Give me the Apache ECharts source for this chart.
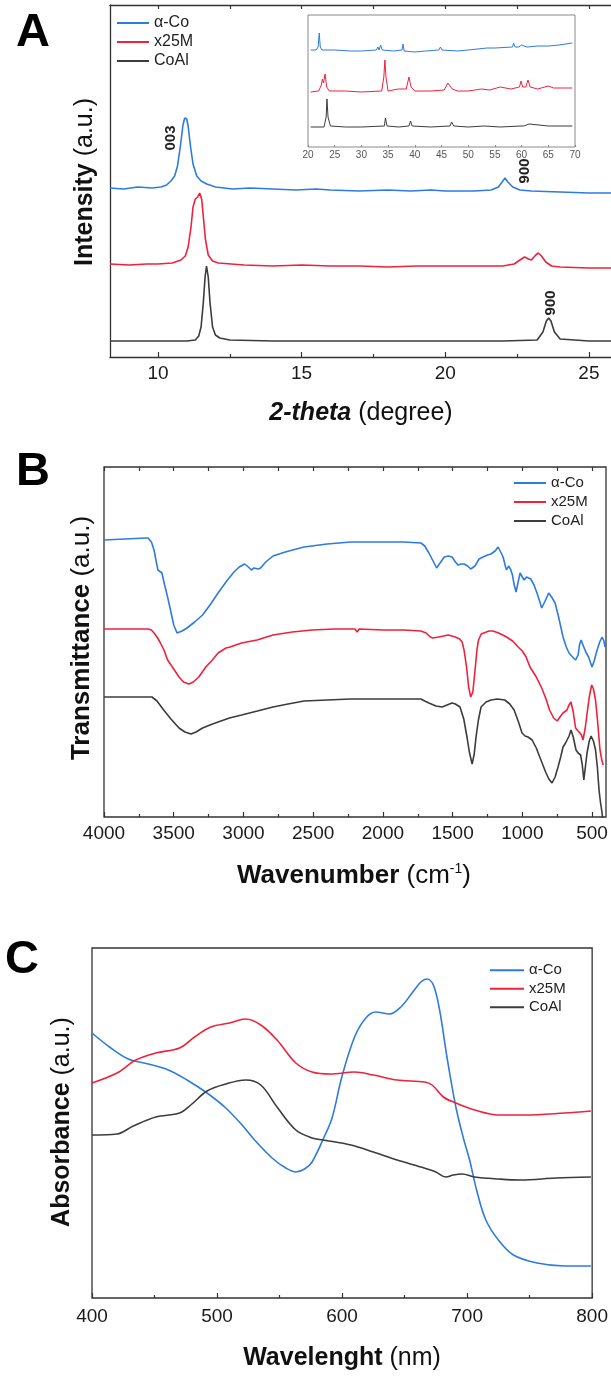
<!DOCTYPE html>
<html><head><meta charset="utf-8">
<script src="https://cdn.jsdelivr.net/npm/echarts@6/dist/echarts.min.js"></script>
<style>html,body{margin:0;padding:0;background:#fff;overflow:hidden}#c{width:611px;height:1376px}</style>
</head><body><div id="c"></div>
<script>
const seriesNames = ['α-Co', 'x25M', 'CoAl'];
const colors = ['#2e7be0', '#f0213b', '#3c3c3c'];

// ---- Panel A: XRD (2-theta, intensity a.u.) ----
const xrdTicks = [10, 15, 20, 25];
const xrdMinorTicks = [12.5, 17.5, 22.5];
const xrdAlphaCo = [[8.33,169],[8.8,168],[9.3,170],[9.8,169],[10.1,170],[10.3,172],[10.45,176],[10.58,181],[10.68,191],[10.78,211],[10.87,232],[10.93,239],[10.96,241],[11.0,238],[11.05,231],[11.13,211],[11.22,193],[11.35,181],[11.5,176],[11.7,173],[12.0,170],[12.6,168],[13.2,169],[14,168],[14.8,167],[15.5,168],[16,167],[17,166],[18,167],[18.8,166],[19.5,167],[20,166],[21,166],[21.6,167],[21.85,170],[21.98,175],[22.08,179],[22.18,175],[22.35,170],[22.6,167],[23,166],[24,165],[25,164],[25.8,164]];
const xrdX25M = [[8.33,93],[9,92],[9.6,93],[10,93],[10.5,94],[10.8,97],[10.95,101],[11.05,110],[11.15,130],[11.22,150],[11.3,158],[11.38,160],[11.45,164],[11.52,158],[11.58,140],[11.65,118],[11.75,102],[11.9,96],[12.1,94],[13,92],[14,91],[15,92],[16,91],[17,91],[18,90],[19,91],[20,91],[21,91],[22,91],[22.4,93],[22.6,97],[22.76,100],[22.9,98],[23.0,97],[23.15,102],[23.24,104],[23.35,101],[23.5,95],[23.7,91],[24,90],[25,89],[25.8,89]];
const xrdCoAl = [[8.33,16],[9,16],[10,16],[11,16],[11.3,17],[11.42,21],[11.5,30],[11.58,55],[11.64,80],[11.69,91],[11.75,80],[11.81,55],[11.9,30],[12.0,22],[12.15,19],[12.5,17],[14,16],[16,16],[18,16],[20,16],[22,16],[23.2,17],[23.4,25],[23.52,36],[23.6,39],[23.68,36],[23.8,25],[24,18],[25,16],[25.8,16]];
const xrdPeakLabels = [['003',10.45,219,90,0],['006',22.72,186,-90,0],['006',23.63,54,-90,2]];

// ---- Inset: wide-angle XRD 20-70 ----
const insetAlphaCo = [[20.5,97],[21.5,97],[21.9,100],[22.1,114],[22.3,100],[22.6,97],[25,97],[28,96],[30,96],[32.8,97],[33.1,100],[33.3,97],[33.6,102],[33.9,97],[36,96],[37.6,97],[37.8,103],[38.0,96],[40,95],[42,96],[44.5,97],[44.8,100],[45.1,97],[48,96],[50,97],[53.5,99],[55,99],[58.3,100],[58.5,104],[58.8,100],[59.5,100],[60,102],[61,100],[63,101],[65,101],[67,102],[69.5,104]];
const insetX25M = [[20.5,55],[22,56],[22.5,62],[22.7,68],[22.9,64],[23.2,73],[23.5,60],[24,56],[27,56],[30,55],[33.8,56],[34.2,70],[34.4,87],[34.6,70],[35,56],[36.9,58],[37.1,56],[38.4,58],[38.9,70],[39.3,60],[40,56],[43,56],[45.5,57],[46.2,64],[46.5,65],[47,58],[48,56],[50,56],[52.5,58],[54,57],[56,60],[58,58],[59.6,60],[59.9,66],[60.2,60],[60.8,60],[61.2,67],[61.6,60],[63,58],[65,61],[66,59],[68,59],[69.5,59]];
const insetCoAl = [[20.5,20],[23,20],[23.4,30],[23.55,48],[23.75,30],[24.2,21],[27,20],[30,20],[34.3,21],[34.5,29],[34.8,21],[37,20],[38.9,21],[39.2,26],[39.5,21],[43,20],[46.6,21],[46.9,25],[47.3,21],[50,20],[53,21],[56,20],[59.9,21],[60.1,23],[60.4,21],[61.4,23],[61.7,21],[65,21],[69.5,21]];

// ---- Panel B: FTIR (wavenumber, transmittance a.u.) ----
const irTicks = [4000, 3500, 3000, 2500, 2000, 1500, 1000, 500];
const irMinorTicks = [3750, 3250, 2750, 2250, 1750, 1250, 750];
const irAlphaCo = [[4000,277],[3850,278],[3700,279],[3684,279],[3660,275],[3641,267],[3625,255],[3613,247],[3600,245],[3585,244],[3565,232],[3544,220],[3520,205],[3500,192],[3476,184],[3440,186],[3405,189],[3350,195],[3293,202],[3240,212],[3182,224],[3120,236],[3068,245],[3030,250],[2991,253],[2965,250],[2943,247],[2925,249],[2914,250],[2895,248],[2877,249],[2840,255],[2788,261],[2700,265],[2566,270],[2400,273],[2230,275],[2100,275],[1950,275],[1850,275],[1727,274],[1700,271],[1670,264],[1640,256],[1615,249],[1595,253],[1560,260],[1530,261],[1504,260],[1480,255],[1461,252],[1440,253],[1418,253],[1392,251],[1370,248],[1360,247],[1340,251],[1310,258],[1282,260],[1250,262],[1225,263],[1195,266],[1174,270],[1155,265],[1138,260],[1120,250],[1113,247],[1099,251],[1085,248],[1071,242],[1058,232],[1045,225],[1030,235],[1016,244],[1000,240],[987,237],[970,240],[959,242],[940,238],[916,232],[890,222],[861,209],[840,215],[811,224],[790,220],[765,214],[740,200],[708,180],[685,170],[665,164],[640,160],[618,157],[600,162],[590,172],[579,177],[565,172],[545,165],[525,160],[510,154],[500,150],[485,156],[464,167],[445,175],[428,180],[415,176],[407,170]];
const irX25M = [[4000,188],[3800,188],[3684,188],[3660,187],[3641,184],[3620,180],[3599,175],[3570,167],[3544,157],[3500,148],[3462,140],[3430,135],[3391,133],[3360,135],[3320,140],[3270,150],[3223,157],[3182,164],[3125,169],[3096,170],[3013,174],[2902,177],[2788,182],[2650,185],[2509,187],[2350,188],[2230,188],[2200,188],[2185,185],[2170,188],[2000,187],[1850,187],[1727,186],[1690,184],[1660,180],[1644,179],[1600,180],[1531,182],[1480,180],[1450,178],[1432,175],[1418,167],[1400,150],[1385,130],[1370,120],[1364,119],[1355,125],[1339,147],[1325,168],[1314,177],[1295,183],[1282,184],[1240,186],[1211,186],[1170,184],[1113,180],[1070,176],[1030,170],[1000,166],[973,160],[945,150],[900,140],[861,129],[830,118],[805,107],[775,99],[750,96],[725,101],[708,104],[680,107],[665,112],[651,115],[635,105],[618,89],[600,86],[587,85],[575,82],[565,77],[550,88],[539,100],[520,120],[503,132],[490,128],[475,117],[460,95],[443,67],[430,57],[421,52]];
const irCoAl = [[4000,120],[3800,120],[3656,120],[3620,116],[3572,107],[3520,98],[3462,89],[3420,85],[3376,83],[3340,85],[3293,89],[3240,92],[3182,95],[3100,99],[3013,102],[2900,106],[2788,110],[2680,113],[2566,116],[2400,117],[2230,118],[2000,118],[1850,118],[1727,118],[1700,116],[1670,114],[1620,111],[1575,110],[1540,112],[1504,114],[1480,113],[1447,110],[1420,98],[1397,80],[1380,65],[1360,53],[1345,63],[1332,80],[1315,97],[1296,110],[1260,115],[1225,117],[1180,118],[1126,117],[1090,113],[1059,107],[1030,96],[1002,84],[980,81],[959,80],[930,77],[900,69],[875,60],[850,51],[833,45],[810,38],[787,34],[765,40],[744,50],[725,60],[708,70],[690,74],[680,75],[665,81],[651,87],[635,80],[615,67],[600,64],[582,62],[570,52],[559,37],[548,50],[536,64],[520,76],[507,81],[490,76],[475,67],[462,50],[450,27],[440,15],[428,4],[415,-20]];

// ---- Panel C: UV-Vis (wavelength, absorbance a.u.) ----
const uvAlphaCo = [[400,265],[414,251],[429,239],[445,234],[461,228],[476,218],[492,205],[507,190],[520,173],[530,158],[544,140],[555,130],[563,126],[570,129],[576,136],[586,162],[592,180],[600,222],[610,261],[619,280],[627,286],[638,284],[647,291],[656,305],[663,316],[668,319],[673,313],[678,288],[684,240],[691,191],[697,160],[702,138],[708,106],[715,78],[725,58],[737,43],[756,35],[778,32],[799,32]];
const uvX25M = [[400,215],[420,225],[435,238],[451,245],[470,250],[482,261],[495,271],[510,275],[523,279],[535,273],[548,258],[563,235],[576,226],[591,224],[610,226],[625,223],[644,218],[666,216],[672,213],[681,201],[691,195],[706,188],[725,183],[747,183],[778,185],[799,187]];
const uvCoAl = [[400,163],[420,164],[433,172],[451,181],[470,185],[479,193],[492,207],[507,214],[523,218],[535,213],[548,191],[563,168],[576,160],[585,158],[607,153],[625,146],[644,138],[663,131],[675,126],[683,121],[689,123],[696,124],[706,121],[725,119],[743,118],[771,120],[799,121]];

const FF = 'Liberation Sans, Arial, Helvetica, sans-serif';
const axisCol = '#333';
const tickLab = { color: '#1a1a1a', fontSize: 19, fontFamily: FF, formatter: v => String(v) };
const axLine = { show: true, lineStyle: { color: axisCol, width: 1.3 } };

function mkLine(name, data, xi, yi, width) {
  const c = colors[seriesNames.indexOf(name)];
  return { type: 'line', name, data, xAxisIndex: xi, yAxisIndex: yi, symbol: 'none',
    lineStyle: { color: c, width: width }, itemStyle: { color: c }, smooth: false, animation: false, silent: true };
}
function yHidden(grid, max, line) {
  return { type: 'value', gridIndex: grid, min: 0, max: max, axisLine: line ? axLine : { show: false }, axisTick: { show: false },
    axisLabel: { show: false }, splitLine: { show: false } };
}
function tickAxis(grid, min, max, pos, vals, len, inverse, line) {
  return { type: 'value', gridIndex: grid, min, max, position: pos, inverse: !!inverse,
    axisLine: line ? axLine : { show: false }, axisLabel: { show: false }, splitLine: { show: false },
    axisTick: { show: true, inside: true, length: len, customValues: vals, lineStyle: { color: axisCol, width: 1.2 } } };
}
function legendAt(left, top, fs, lh, iw) {
  return { orient: 'vertical', left, top, padding: 0, itemWidth: iw, itemHeight: 2, itemGap: 0, icon: 'rect',
    data: seriesNames, selectedMode: false,
    textStyle: { fontSize: fs, fontFamily: FF, color: '#222', lineHeight: lh } };
}

const A_MIN = 8.33, A_MAX = 25.77;

const chart = echarts.init(document.getElementById('c'), null, { renderer: 'canvas' });
const series = [];
[xrdAlphaCo, xrdX25M, xrdCoAl].forEach((d, i) => series.push(mkLine(seriesNames[i], d, 0, 0, 1.6)));
[insetAlphaCo, insetX25M, insetCoAl].forEach((d, i) => series.push(mkLine(seriesNames[i], d, 3, 1, 1)));
[irAlphaCo, irX25M, irCoAl].forEach((d, i) => series.push(mkLine(seriesNames[i], d, 4, 2, 1.6)));
[uvAlphaCo, uvX25M, uvCoAl].forEach((d, i) => { const s = mkLine(seriesNames[i], d, 7, 3, 1.6); s.smooth = 0.35; series.push(s); });

xrdPeakLabels.forEach(([txt, x, y, rot, si]) => {
  const s = series[si];
  s.markPoint = s.markPoint || { symbol: 'circle', symbolSize: 0, silent: true, animation: false, data: [] };
  s.markPoint.data.push({ coord: [x, y], label: { show: true, position: 'inside', formatter: txt, rotate: rot,
    fontSize: 15, fontWeight: 'bold', fontFamily: FF, color: '#222' } });
});

const option = {
  animation: false,
  backgroundColor: '#fff',
  grid: [
    { left: 110, top: 5, right: 0, height: 352, show: false },
    { left: 308, top: 15, width: 267, height: 132, show: true, borderColor: '#8a8a8a', borderWidth: 1, backgroundColor: '#fff' },
    { left: 104, top: 467, width: 502, height: 350, show: true, borderColor: axisCol, borderWidth: 1.3 },
    { left: 92, top: 948, width: 501, height: 350, show: true, borderColor: axisCol, borderWidth: 1.3 }
  ],
  xAxis: [
    { type: 'value', gridIndex: 0, min: A_MIN, max: A_MAX, position: 'bottom', axisLine: axLine, splitLine: { show: false },
      axisTick: { show: true, inside: true, length: 5, customValues: xrdTicks, lineStyle: { color: axisCol, width: 1.2 } },
      axisLabel: Object.assign({ customValues: xrdTicks, margin: 7 }, tickLab) },
    tickAxis(0, A_MIN, A_MAX, 'bottom', xrdMinorTicks, 3),
    tickAxis(0, A_MIN, A_MAX, 'top', xrdTicks.concat(xrdMinorTicks), 4, false, true),
    { type: 'value', gridIndex: 1, min: 20, max: 70, interval: 5, position: 'bottom', axisLine: { show: false }, splitLine: { show: false },
      axisTick: { show: true, inside: true, length: 2, lineStyle: { color: '#8a8a8a' } },
      axisLabel: { fontSize: 10, color: '#555', margin: 3, fontFamily: FF } },
    { type: 'value', gridIndex: 2, min: 400, max: 4000, inverse: true, position: 'bottom', axisLine: { show: false }, splitLine: { show: false },
      axisTick: { show: true, inside: true, length: 5, customValues: irTicks, lineStyle: { color: axisCol, width: 1.2 } },
      axisLabel: Object.assign({ customValues: irTicks, margin: 7 }, tickLab) },
    tickAxis(2, 400, 4000, 'bottom', irMinorTicks, 3, true),
    tickAxis(2, 400, 4000, 'top', irTicks.concat(irMinorTicks), 4, true),
    { type: 'value', gridIndex: 3, min: 400, max: 800, interval: 100, position: 'bottom', axisLine: { show: false }, splitLine: { show: false },
      axisTick: { show: true, inside: true, length: 5, lineStyle: { color: axisCol, width: 1.2 } },
      minorTick: { show: true, splitNumber: 2, length: 3, lineStyle: { color: axisCol, width: 1.2 } },
      axisLabel: Object.assign({ margin: 9 }, tickLab) }
  ],
  yAxis: [yHidden(0, 352, true), yHidden(1, 132), yHidden(2, 350), yHidden(3, 350)],
  legend: [legendAt(117, 13.5, 16, 19, 32), legendAt(514, 473.5, 15, 19, 32), legendAt(490, 961, 15, 18.5, 34)],
  series,
  graphic: [
    { type: 'text', x: 16, y: 33, style: { text: 'A', fontSize: 47, fontWeight: 'bold', fontFamily: FF, fill: '#000', align: 'left', verticalAlign: 'middle' } },
    { type: 'text', x: 16, y: 472, style: { text: 'B', fontSize: 47, fontWeight: 'bold', fontFamily: FF, fill: '#000', align: 'left', verticalAlign: 'middle' } },
    { type: 'text', x: 5, y: 960, style: { text: 'C', fontSize: 47, fontWeight: 'bold', fontFamily: FF, fill: '#000', align: 'left', verticalAlign: 'middle' } },
    { type: 'text', x: 361, y: 413, style: { text: '{b|2-theta} (degree)', fontSize: 25, fontFamily: FF, fill: '#111', align: 'center', verticalAlign: 'middle',
        rich: { b: { fontSize: 25, fontWeight: 'bold', fontStyle: 'italic', fontFamily: FF, fill: '#111' } } } },
    { type: 'text', x: 85, y: 182, rotation: Math.PI / 2, style: { text: '{b|Intensity} (a.u.)', fontSize: 25, fontFamily: FF, fill: '#111', align: 'center', verticalAlign: 'middle',
        rich: { b: { fontSize: 25, fontWeight: 'bold', fontFamily: FF, fill: '#111' } } } },
    { type: 'text', x: 354, y: 876, style: { text: '{b|Wavenumber} (cm{s|-1})', fontSize: 26, fontFamily: FF, fill: '#111', align: 'center', verticalAlign: 'middle',
        rich: { b: { fontSize: 26, fontWeight: 'bold', fontFamily: FF, fill: '#111' }, s: { fontSize: 14, fontFamily: FF, fill: '#111', padding: [0, 0, 14, 0] } } } },
    { type: 'text', x: 82, y: 638, rotation: Math.PI / 2, style: { text: '{b|Transmittance} (a.u.)', fontSize: 26, fontFamily: FF, fill: '#111', align: 'center', verticalAlign: 'middle',
        rich: { b: { fontSize: 26, fontWeight: 'bold', fontFamily: FF, fill: '#111' } } } },
    { type: 'text', x: 342, y: 1358, style: { text: '{b|Wavelenght} (nm)', fontSize: 25, fontFamily: FF, fill: '#111', align: 'center', verticalAlign: 'middle',
        rich: { b: { fontSize: 25, fontWeight: 'bold', fontFamily: FF, fill: '#111' } } } },
    { type: 'text', x: 62, y: 1122, rotation: Math.PI / 2, style: { text: '{b|Absorbance} (a.u.)', fontSize: 25, fontFamily: FF, fill: '#111', align: 'center', verticalAlign: 'middle',
        rich: { b: { fontSize: 25, fontWeight: 'bold', fontFamily: FF, fill: '#111' } } } }
  ]
};
chart.setOption(option);
</script></body></html>
